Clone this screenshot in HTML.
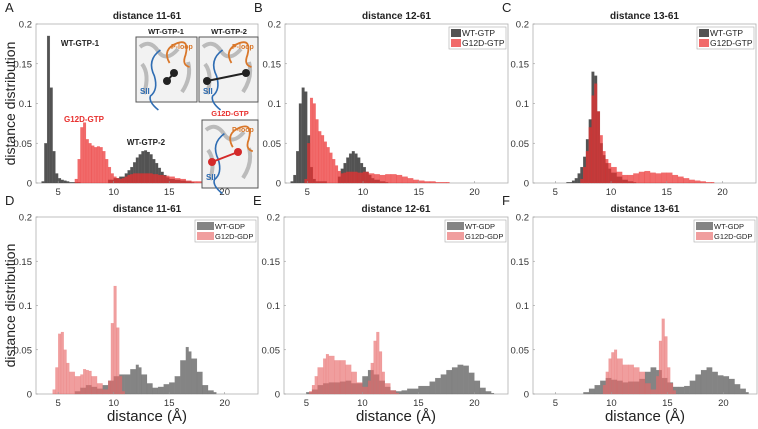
<!DOCTYPE html>
<html><head><meta charset="utf-8"><style>
body{margin:0;background:#fff;font-family:"Liberation Sans",sans-serif}
svg text{font-family:"Liberation Sans",sans-serif}
</style></head><body>
<svg id="fig" width="758" height="424" viewBox="0 0 758 424" xmlns="http://www.w3.org/2000/svg"></svg>
<script>
// ---- data (x = distance Å bin start, y = distance distribution) ----
const xTicks=[5,10,15,20];
const yTicks=[0,0.05,0.1,0.15,0.2];
const yTickLabels=["0","0.05","0.1","0.15","0.2"];
const titles=["distance 11-61","distance 12-61","distance 13-61","distance 11-61","distance 12-61","distance 13-61"];
const panelLetters=["A","B","C","D","E","F"];
const legendTop=["WT-GTP","G12D-GTP"];
const legendBottom=["WT-GDP","G12D-GDP"];

const aGrayX=[3.5,3.75,4,4.25,4.5,4.75,5,5.25,5.5,5.75,6,9.5,10,10.5,11,11.25,11.5,11.75,12,12.25,12.5,12.75,13,13.25,13.5,13.75,14,14.25,14.5,14.75,15,15.5,16,16.5,17];
const aGrayY=[0.002,0.05,0.185,0.12,0.04,0.012,0.006,0.004,0.003,0.002,0.001,0.004,0.006,0.008,0.012,0.016,0.02,0.026,0.032,0.036,0.04,0.041,0.039,0.036,0.03,0.025,0.019,0.014,0.01,0.007,0.005,0.004,0.003,0.002,0.001];
const aRedX=[6.5,6.75,7,7.25,7.5,7.75,8,8.25,8.5,8.75,9,9.25,9.5,9.75,10,10.25,10.5,10.75,11,11.25,11.5,11.75,12,12.5,13,13.5,14,14.5,15,15.5,16,16.5,17,17.5,18,18.5];
const aRedY=[0.005,0.03,0.07,0.076,0.055,0.05,0.047,0.045,0.046,0.045,0.04,0.03,0.02,0.012,0.008,0.006,0.005,0.006,0.008,0.01,0.011,0.012,0.012,0.012,0.012,0.011,0.01,0.009,0.008,0.006,0.005,0.003,0.002,0.002,0.001,0.001];

const bGrayX=[3.5,3.75,4,4.25,4.5,4.75,5,5.25,5.5,5.75,7.75,8,8.25,8.5,8.75,9,9.25,9.5,9.75,10,10.25,10.5,10.75,11,11.5,12];
const bGrayY=[0.002,0.01,0.04,0.1,0.12,0.115,0.06,0.02,0.005,0.002,0.008,0.018,0.025,0.032,0.037,0.04,0.037,0.032,0.025,0.02,0.014,0.01,0.006,0.004,0.002,0.001];
const bRedX=[4.75,5,5.25,5.5,5.75,6,6.25,6.5,6.75,7,7.25,7.5,7.75,8,8.25,8.5,8.75,9,9.5,10,10.5,11,11.5,12,12.5,13,13.5,14,14.5,15,15.5,16,16.5,17.5];
const bRedY=[0.005,0.05,0.107,0.1,0.08,0.065,0.06,0.052,0.045,0.038,0.03,0.022,0.015,0.012,0.013,0.014,0.014,0.014,0.013,0.014,0.012,0.011,0.01,0.011,0.011,0.01,0.008,0.006,0.004,0.003,0.002,0.002,0.001,0.001];

const cGrayX=[6,6.5,6.75,7,7.25,7.5,7.75,8,8.25,8.5,8.75,9,9.25,9.5,9.75,10,10.5,11,11.5,12];
const cGrayY=[0.001,0.003,0.006,0.012,0.02,0.033,0.055,0.08,0.14,0.135,0.09,0.05,0.035,0.025,0.018,0.013,0.008,0.004,0.002,0.001];
const cRedX=[7.25,7.5,7.75,8,8.25,8.5,8.75,9,9.25,9.5,9.75,10,10.5,11,11.5,12,12.5,13,13.5,14,14.5,15,15.5,16,16.5,17,17.5,18,18.5,19];
const cRedY=[0.005,0.02,0.04,0.07,0.11,0.125,0.09,0.06,0.04,0.03,0.025,0.02,0.014,0.01,0.01,0.012,0.014,0.015,0.013,0.012,0.013,0.013,0.01,0.008,0.006,0.004,0.003,0.002,0.001,0.001];

const dGrayX=[6.5,7,7.5,8,8.5,9,9.5,10,10.5,11,11.5,12,12.25,12.5,13,13.5,14,14.5,15,15.5,16,16.5,16.75,17,17.5,18,18.5,19];
const dGrayY=[0.003,0.007,0.01,0.008,0.006,0.01,0.015,0.02,0.022,0.022,0.028,0.033,0.03,0.022,0.012,0.007,0.008,0.011,0.013,0.02,0.038,0.053,0.048,0.04,0.025,0.01,0.004,0.002];
const dRedX=[4.5,4.75,5,5.25,5.5,5.75,6,6.5,7,7.25,7.5,7.75,8,8.5,9,9.5,9.75,10,10.25,10.5,10.75];
const dRedY=[0.005,0.03,0.068,0.07,0.05,0.035,0.025,0.02,0.022,0.028,0.027,0.026,0.02,0.012,0.005,0.015,0.08,0.122,0.075,0.02,0.003];

const eGrayX=[5,5.5,6,6.5,7,7.5,8,8.5,9,9.5,10,10.5,11,11.5,12,12.5,13,13.5,14,15,16,16.5,17,17.5,18,18.5,19,19.5,20,20.5,21,21.5];
const eGrayY=[0.002,0.005,0.01,0.012,0.013,0.013,0.014,0.015,0.012,0.012,0.02,0.027,0.022,0.015,0.008,0.004,0.003,0.004,0.006,0.009,0.014,0.018,0.022,0.027,0.03,0.033,0.032,0.024,0.015,0.007,0.003,0.001];
const eRedX=[5.25,5.5,5.75,6,6.5,6.75,7,7.5,8,8.5,9,9.5,10,10.5,10.75,11,11.25,11.5,11.75,12,12.5,13];
const eRedY=[0.003,0.01,0.02,0.03,0.04,0.045,0.043,0.038,0.038,0.033,0.025,0.013,0.008,0.015,0.035,0.06,0.07,0.048,0.025,0.012,0.004,0.001];

const fGrayX=[7.5,8,8.5,9,9.5,10,10.5,11,11.5,12,12.5,13,13.5,14,14.5,15,15.5,16,16.5,17,17.5,18,18.5,19,19.5,20,20.5,21,21.5,22];
const fGrayY=[0.002,0.006,0.01,0.015,0.018,0.016,0.015,0.013,0.014,0.014,0.017,0.025,0.03,0.027,0.018,0.013,0.008,0.008,0.009,0.015,0.022,0.027,0.03,0.025,0.021,0.02,0.017,0.011,0.006,0.002];
const fRedX=[9.25,9.5,9.75,10,10.25,10.5,11,11.5,12,12.5,13,13.5,14,14.25,14.5,14.75,15,15.25,15.5];
const fRedY=[0.01,0.025,0.04,0.047,0.05,0.04,0.033,0.033,0.03,0.025,0.012,0.005,0.02,0.06,0.085,0.065,0.03,0.012,0.004];

const panelGray=[[aGrayX,aGrayY],[bGrayX,bGrayY],[cGrayX,cGrayY],[dGrayX,dGrayY],[eGrayX,eGrayY],[fGrayX,fGrayY]];
const panelRed=[[aRedX,aRedY],[bRedX,bRedY],[cRedX,cRedY],[dRedX,dRedY],[eRedX,eRedY],[fRedX,fRedY]];

// ---- layout ----
const NS="http://www.w3.org/2000/svg";
const svg=document.getElementById('fig');
function mk(tag,attrs,parent){const e=document.createElementNS(NS,tag);for(const k in attrs)e.setAttribute(k,attrs[k]);(parent||svg).appendChild(e);return e;}
const boxes=[
 {l:36,r:258,t:24,b:183},{l:285,r:508,t:24,b:183},{l:533,r:756,t:24,b:183},
 {l:36,r:258,t:217,b:394},{l:284,r:508,t:217,b:394},{l:533,r:757,t:217,b:394}];
const XMIN=3,XMAX=23,YMAX=0.2;

boxes.forEach((bx,i)=>{
  const g=mk('g',{});
  
  
  const xs=v=>bx.l+(v-XMIN)/(XMAX-XMIN)*(bx.r-bx.l);
  const ys=v=>bx.b-v/YMAX*(bx.b-bx.t);
  const top=i<3;
  const L=mk('text',{x:bx.l-31,y:bx.t-12,'font-size':13,fill:'#222'},g);L.textContent=panelLetters[i];
  
  
  const T=mk('text',{x:(bx.l+bx.r)/2,y:bx.t-5,'font-size':10,'font-weight':'bold','text-anchor':'middle',fill:'#222'},g);T.textContent=titles[i];
  
  
  mk('rect',{x:bx.l,y:bx.t,width:bx.r-bx.l,height:bx.b-bx.t,fill:'#fff',stroke:'#b0b0b0','stroke-width':0.8},g);
  const series=[[panelGray[i],top?'#4a4a4a':'#6e6e6e',top?0.95:0.85,'wt'],[panelRed[i],top?'#ec3030':'#e86a6a',top?0.72:0.65,'g12d']];
  series.forEach(([s,col,op,nm])=>{
    const X=s[0],Y=s[1];
    for(let k=0;k<X.length;k++){
      const w=(k<X.length-1)?Math.min(X[k+1]-X[k],1.0):0.25;
      const x0=xs(X[k]),x1=xs(X[k]+w);
      const b=mk('rect',{x:x0,y:ys(Y[k]),width:Math.max(x1-x0,0.5),height:ys(0)-ys(Y[k]),fill:col,'fill-opacity':op,stroke:col,'stroke-opacity':0.4,'stroke-width':0.3},g);
      
      
    }
  });
  xTicks.forEach(v=>{
    mk('line',{x1:xs(v),x2:xs(v),y1:bx.b,y2:bx.b-2,stroke:'#999','stroke-width':0.6},g);
    const t=mk('text',{x:xs(v),y:bx.b+12,'font-size':9.5,'text-anchor':'middle',fill:'#333'},g);t.textContent=v;
    
    
  });
  yTicks.forEach((v,j)=>{
    mk('line',{x1:bx.l,x2:bx.l+2,y1:ys(v),y2:ys(v),stroke:'#999','stroke-width':0.6},g);
    const t=mk('text',{x:bx.l-4,y:ys(v)+3.5,'font-size':9.5,'text-anchor':'end',fill:'#333'},g);t.textContent=yTickLabels[j];
    
    
  });
  if(i===0||i===3){
    const yl=mk('text',{x:0,y:0,'font-size':14,'text-anchor':'middle',fill:'#222',transform:`translate(15,${(bx.t+bx.b)/2}) rotate(-90)`},g);yl.textContent='distance distribution';
    
    
  }
  if(!top){
    const xl=mk('text',{x:(bx.l+bx.r)/2,y:421,'font-size':15,'text-anchor':'middle',fill:'#222'},g);xl.textContent='distance (Å)';
    
    
  }
  if(i!==0){
    const labs=top?legendTop:legendBottom;
    const lw=top?57:61, lx=bx.r-lw-2, ly=bx.t+3;
    const lg=mk('g',{},g);
    
    
    mk('rect',{x:lx,y:ly,width:lw,height:22,fill:'#fff',stroke:'#aaa','stroke-width':0.6},lg);
    labs.forEach((lab,j)=>{
      const col=j===0?(top?'#4a4a4a':'#6e6e6e'):(top?'#ec3030':'#e86a6a');
      const op=j===0?(top?0.95:0.85):(top?0.72:0.65);
      mk('rect',{x:lx+2,y:ly+2+j*10,width:top?10:17,height:8,fill:col,'fill-opacity':op},lg);
      const t=mk('text',{x:lx+(top?13:20),y:ly+9+j*10,'font-size':top?8.5:7.5,fill:'#222'},lg);t.textContent=lab;
      
      
    });
  }
});

function lab(x,y,txt,col,name,size){const t=mk('text',{x:x,y:y,'font-size':size||8,'font-weight':'bold',fill:col,'text-anchor':'middle'});t.textContent=txt;
 
 }
lab(80,46,'WT-GTP-1','#222','wt-gtp-1-label');
lab(84,122,'G12D-GTP','#e8302e','g12d-gtp-label');
lab(146,145,'WT-GTP-2','#222','wt-gtp-2-label');
lab(166,34,'WT-GTP-1','#222','inset1-title',7.5);
lab(229,34,'WT-GTP-2','#222','inset2-title',7.5);
lab(230,116,'G12D-GTP','#e8302e','inset3-title',7.5);
function inset(x,y,w,h,name,dotCol,d1,d2){
  const g=mk('g',{});
  
  
  mk('rect',{x:x,y:y,width:w,height:h,fill:'#f2f2f2',stroke:'#555','stroke-width':1},g);
  mk('path',{d:`M${x+4} ${y+10} q10 -8 18 4 t20 -2 M${x+w-15} ${y+h-10} q10 -15 6 -30 M${x+8} ${y+h-8} q6 -20 -2 -30`,fill:'none',stroke:'#bbb','stroke-width':4},g);
  mk('path',{d:`M${x+w*0.4} ${y+h*0.2} q-14 10 -6 26 q4 14 -4 20 q-2 6 8 14`,fill:'none',stroke:'#2f6db3','stroke-width':1.6},g);
  mk('path',{d:`M${x+w*0.55} ${y+h*0.4} q-8 -14 8 -20 q12 -4 8 12 q-4 10 4 12`,fill:'none',stroke:'#d9772a','stroke-width':1.8},g);
  const s=mk('text',{x:x+4,y:y+h-8,'font-size':8,'font-weight':'bold',fill:'#2f6db3'},g);s.textContent='SII';
  
  
  const p=mk('text',{x:x+w-26,y:y+12,'font-size':7,'font-weight':'bold',fill:'#d9772a'},g);p.textContent='P-loop';
  
  
  mk('line',{x1:x+d1[0],y1:y+d1[1],x2:x+d2[0],y2:y+d2[1],stroke:dotCol,'stroke-width':2},g);
  mk('circle',{cx:x+d1[0],cy:y+d1[1],r:4,fill:dotCol},g);
  mk('circle',{cx:x+d2[0],cy:y+d2[1],r:4,fill:dotCol},g);
}
inset(136,37,61,65,'inset-wt-gtp-1','#222',[31,44],[38,36]);
inset(199,37,59,65,'inset-wt-gtp-2','#222',[8,44],[47,36]);
inset(202,120,56,68,'inset-g12d-gtp','#d42a2a',[10,42],[36,32]);
</script>
</body></html>
